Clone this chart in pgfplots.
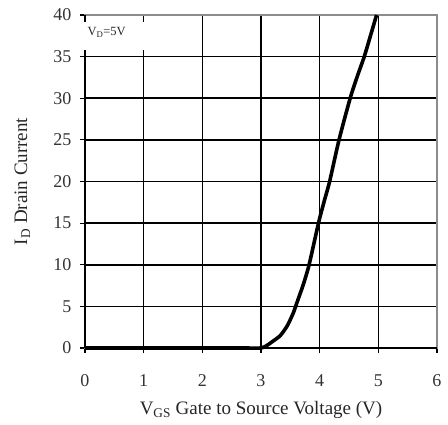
\documentclass[border=0pt]{standalone}
\usepackage{pgfplots}
\pgfplotsset{compat=1.18}
\usepackage{fontspec}
\setmainfont{Liberation Serif}
\begin{document}
\begin{tikzpicture}
\path[use as bounding box] (-85bp,-77bp) rectangle (363bp,348bp);
\begin{axis}[
  at={(0,0)}, anchor=south west,
  scale only axis, width=352bp, height=333bp,
  xmin=0, xmax=6, ymin=0, ymax=40,
  xtick={0,1,2,3,4,5,6}, ytick={0,5,10,15,20,25,30,35,40},
  xtick pos=bottom, ytick pos=left,
  tick align=center, major tick length=10bp,
  tick style={black, line width=1.2bp},
  grid=major, major grid style={black, line width=1.6bp},
  axis line style={black!45, line width=1.2bp},
  /pgf/number format/assume math mode=true,
  ticklabel style={font=\fontsize{18bp}{20bp}\selectfont, text=black!80},
  xticklabel style={yshift=-18bp},
  yticklabel style={xshift=-5bp},
  xlabel={V\textsubscript{GS} Gate to Source Voltage (V)},
  ylabel={I\textsubscript{D} Drain Current},
  label style={font=\fontsize{19bp}{21bp}\selectfont, text=black!85},
  xlabel style={at={(axis description cs:0.5,-0.187)}, anchor=center},
  ylabel style={at={(axis description cs:-0.178,0.5)}, anchor=center, rotate=0},
  clip=false,
]
\draw[black, line width=1.6bp] (axis cs:0,0) -- (axis cs:6,0);
\draw[black, line width=1.6bp] (axis cs:0,0) -- (axis cs:0,40);
\fill[white] (axis cs:-0.03,35.8) rectangle (axis cs:1.12,39.2);
\node[anchor=west, font=\fontsize{12.5bp}{14bp}\selectfont, text=black!85, inner sep=0pt] at (axis cs:0.04,37.9) {V\textsubscript{D}=5V};
\addplot[black, line width=3.6bp, smooth, tension=0.4] coordinates {
(0,0) (1,0) (2,0) (2.7,0) (3.0,0) (3.1,0.3) (3.2,0.8) (3.33,1.5) (3.45,2.7)
(3.55,4.2) (3.62,5.6) (3.72,7.6) (3.82,10) (3.98,15) (4.08,17.7) (4.17,20)
(4.33,25) (4.52,30) (4.64,32.6) (4.76,35) (4.87,37.6) (4.97,40)
};
\end{axis}
\end{tikzpicture}
\end{document}
